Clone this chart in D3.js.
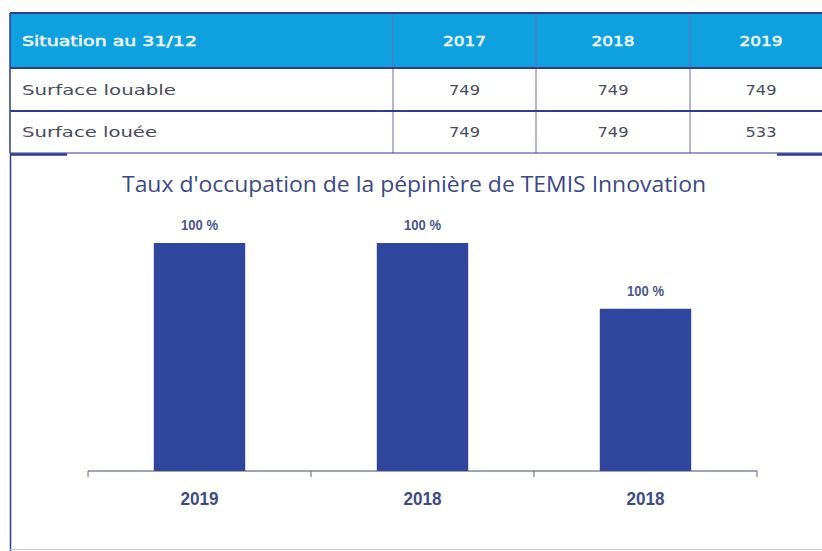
<!DOCTYPE html>
<html>
<head>
<meta charset="utf-8">
<script src="https://cdn.jsdelivr.net/npm/d3@7"></script>
<style>
  html, body { margin: 0; padding: 0; background: #fff; }
  svg { display: block; }
</style>
</head>
<body>
<svg id="chart" width="822" height="551"></svg>
<script>
// --- Data ---------------------------------------------------------
const tableHeader = ["Situation au 31/12", "2017", "2018", "2019"];
const rowLabels = ["Surface louable", "Surface louée"];
const surfaceLouable = [749, 749, 749];
const surfaceLouee = [749, 749, 533];

const chartTitle = "Taux d'occupation de la pépinière de TEMIS Innovation";
const barCategories = ["2019", "2018", "2018"];
const barValues = [749, 749, 533];
const barLabels = ["100 %", "100 %", "100 %"];

// --- Setup --------------------------------------------------------
const svg = d3.select("#chart");
const navy = "#2e3b8e";
const headerBlue = "#0fa0e0";
const textGrey = "#4a4a62";
const tableFont = "'DejaVu Sans', sans-serif";
// the source table uses a wide geometric face, so stretch to its measured widths
const headWidths = [175, 43, 43, 43];
const labelWidths = [154, 135];

// --- Table --------------------------------------------------------
const colEdges = [10, 393, 536, 690, 832];
const rowEdges = [13, 68, 111, 153];
const t = svg.append("g");

t.append("rect")
  .attr("x", colEdges[0]).attr("y", rowEdges[0])
  .attr("width", 822 - colEdges[0]).attr("height", rowEdges[1] - rowEdges[0])
  .attr("fill", headerBlue);

// column separators
t.selectAll("line.col").data(colEdges.slice(0, 4))
  .enter().append("line")
  .attr("x1", (d) => d).attr("x2", (d) => d)
  .attr("y1", rowEdges[0]).attr("y2", rowEdges[3])
  .attr("stroke", (d, i) => (i === 0 ? navy : "#6a6fa8"))
  .attr("stroke-width", (d, i) => (i === 0 ? 1.5 : 1));

// horizontal lines
t.selectAll("line.row").data(rowEdges)
  .enter().append("line")
  .attr("x1", colEdges[0]).attr("x2", 822)
  .attr("y1", (d) => d).attr("y2", (d) => d)
  .attr("stroke", navy)
  .attr("stroke-width", (d, i) => (i === 3 ? 1 : 2));

// thicker stubs under the table
t.append("line").attr("x1", 10).attr("x2", 67).attr("y1", 154.5).attr("y2", 154.5)
  .attr("stroke", navy).attr("stroke-width", 2.5);
t.append("line").attr("x1", 777).attr("x2", 822).attr("y1", 154.5).attr("y2", 154.5)
  .attr("stroke", navy).attr("stroke-width", 2.5);

const colCenter = (i) => (colEdges[i] + colEdges[i + 1]) / 2;

t.selectAll("text.head").data(tableHeader)
  .enter().append("text")
  .attr("x", (d, i) => (i === 0 ? 22 : colCenter(i)))
  .attr("y", (rowEdges[0] + rowEdges[1]) / 2 + 5)
  .attr("text-anchor", (d, i) => (i === 0 ? "start" : "middle"))
  .attr("font-family", tableFont).attr("font-size", 14.5)
  .attr("fill", "#eef8fe").attr("stroke", "#eef8fe").attr("stroke-width", 0.55)
  .attr("textLength", (d, i) => headWidths[i]).attr("lengthAdjust", "spacingAndGlyphs")
  .text((d) => d);

const bodyRows = [surfaceLouable, surfaceLouee];
bodyRows.forEach((vals, r) => {
  const cy = (rowEdges[r + 1] + rowEdges[r + 2]) / 2 + 5;
  t.append("text")
    .attr("x", 22).attr("y", cy)
    .attr("font-family", tableFont).attr("font-size", 14.5)
    .attr("fill", textGrey)
    .attr("textLength", labelWidths[r]).attr("lengthAdjust", "spacingAndGlyphs")
    .text(rowLabels[r]);
  t.selectAll(null).data(vals)
    .enter().append("text")
    .attr("x", (d, i) => colCenter(i + 1)).attr("y", cy)
    .attr("text-anchor", "middle")
    .attr("font-family", tableFont).attr("font-size", 14.5)
    .attr("fill", textGrey)
    .attr("textLength", 31).attr("lengthAdjust", "spacingAndGlyphs")
    .text((d) => d);
});

// --- Chart frame --------------------------------------------------
svg.append("line").attr("x1", 10.5).attr("x2", 10.5).attr("y1", 153).attr("y2", 551)
  .attr("stroke", navy).attr("stroke-width", 1.5);
svg.append("line").attr("x1", 10).attr("x2", 822).attr("y1", 549.5).attr("y2", 549.5)
  .attr("stroke", "#c8cadb").attr("stroke-width", 1);

svg.append("text")
  .attr("x", 414).attr("y", 192)
  .attr("text-anchor", "middle")
  .attr("font-family", "'Open Sans', sans-serif").attr("font-size", 21.5)
  .attr("fill", "#3b4888")
  .attr("textLength", 584).attr("lengthAdjust", "spacingAndGlyphs")
  .text(chartTitle);

// --- Bars ---------------------------------------------------------
const x = d3.scaleBand()
  .domain(d3.range(barValues.length))
  .range([88, 757])
  .paddingInner(0.59).paddingOuter(0.295);
const y = d3.scaleLinear().domain([0, 749]).range([471, 243]);

const g = svg.append("g");
g.selectAll("rect.bar").data(barValues)
  .enter().append("rect")
  .attr("x", (d, i) => x(i)).attr("width", x.bandwidth())
  .attr("y", (d) => y(d)).attr("height", (d) => y(0) - y(d))
  .attr("fill", "#2f469c");

g.selectAll("text.val").data(barValues)
  .enter().append("text")
  .attr("x", (d, i) => x(i) + x.bandwidth() / 2)
  .attr("y", (d) => y(d) - 13)
  .attr("text-anchor", "middle")
  .attr("font-family", "'Liberation Sans', Arial, sans-serif")
  .attr("font-size", 14.5).attr("font-weight", "bold")
  .attr("fill", "#4a5590")
  .attr("textLength", 37).attr("lengthAdjust", "spacingAndGlyphs")
  .text((d, i) => barLabels[i]);

// axis with ticks at band boundaries
const axisY = 471;
const tickXs = d3.range(barValues.length + 1).map((i) => 88 + i * x.step());
g.append("line").attr("x1", 88).attr("x2", 757).attr("y1", axisY).attr("y2", axisY)
  .attr("stroke", "#3f4a78").attr("stroke-width", 1.2);
g.selectAll("line.tick").data(tickXs)
  .enter().append("line")
  .attr("x1", (d) => d).attr("x2", (d) => d)
  .attr("y1", axisY).attr("y2", axisY + 6)
  .attr("stroke", "#5a6288").attr("stroke-width", 1);

g.selectAll("text.cat").data(barCategories)
  .enter().append("text")
  .attr("x", (d, i) => x(i) + x.bandwidth() / 2)
  .attr("y", 505)
  .attr("text-anchor", "middle")
  .attr("font-family", "'Liberation Sans', Arial, sans-serif")
  .attr("font-size", 17.5).attr("font-weight", "bold")
  .attr("fill", "#3d4a86")
  .attr("textLength", 38).attr("lengthAdjust", "spacingAndGlyphs")
  .text((d) => d);
</script>
</body>
</html>
